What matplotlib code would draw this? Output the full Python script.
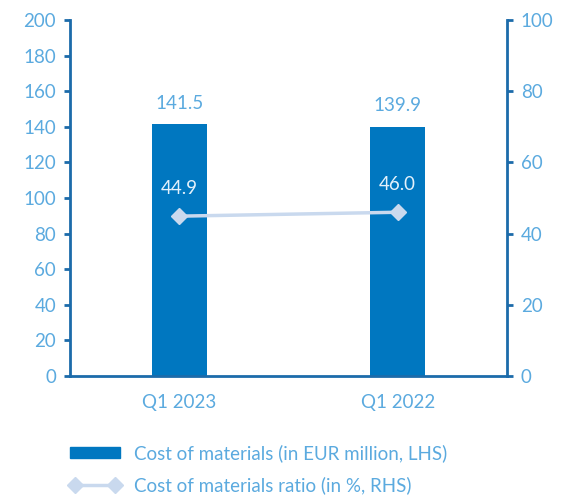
import matplotlib
matplotlib.use("Agg")
import matplotlib.pyplot as plt
from matplotlib.lines import Line2D
from matplotlib.patches import Patch

categories = ["Q1 2023", "Q1 2022"]
cost_materials = [141.5, 139.9]
cost_ratio = [44.9, 46.0]
left_ticks = [0, 20, 40, 60, 80, 100, 120, 140, 160, 180, 200]
right_ticks = [0, 20, 40, 60, 80, 100]

BAR = "#0077C0"
SPINE = "#1C6BAA"
TEXT = "#5BAADF"
LINE = "#C9D9EE"
FS = 13.5

plt.rcParams['font.family'] = ['Lato', 'DejaVu Sans']

fig = plt.figure(figsize=(5.63, 4.97), dpi=100)
ax = fig.add_axes([70/563, 1-376/497, 437/563, 356/497])
ax2 = ax.twinx()

x = list(range(len(categories)))
ax.bar(x, cost_materials, width=0.25, color=BAR, zorder=2)
ax.set_xlim(-0.5, 1.5)
ax.set_ylim(0, 200)
ax.set_yticks(left_ticks)
ax.set_xticks(x)
ax.set_xticklabels(categories)

for xi, v in zip(x, cost_materials):
    ax.annotate(f"{v:.1f}", (xi, v), xytext=(0, 9), textcoords="offset points",
                ha="center", va="bottom", color=TEXT, fontsize=FS)

ax2.plot(x, cost_ratio, color=LINE, lw=2.5, marker="D", ms=8, zorder=3)
ax2.set_ylim(0, 100)
ax2.set_yticks(right_ticks)
for xi, v in zip(x, cost_ratio):
    ax2.annotate(f"{v:.1f}", (xi, v), xytext=(0, 14), textcoords="offset points",
                 ha="center", va="bottom", color="#E3F1FB", fontsize=FS)

for a in (ax, ax2):
    for s in a.spines.values():
        s.set_visible(False)
    a.tick_params(colors=SPINE, labelcolor=TEXT, labelsize=FS, width=2, length=4)
ax.spines['left'].set_visible(True)
ax.spines['left'].set_color(SPINE)
ax.spines['left'].set_linewidth(2)
ax.spines['bottom'].set_visible(True)
ax.spines['bottom'].set_color(SPINE)
ax.spines['bottom'].set_linewidth(2)
ax2.spines['right'].set_visible(True)
ax2.spines['right'].set_color(SPINE)
ax2.spines['right'].set_linewidth(2)
ax.tick_params(axis='x', length=0, pad=13)
ax.tick_params(axis='y', pad=6)
ax2.tick_params(axis='y', pad=6)

handles = [Patch(color=BAR),
           Line2D([0], [0], color=LINE, lw=2.5, marker="D", ms=8)]
labels = ["Cost of materials (in EUR million, LHS)", "Cost of materials ratio (in %, RHS)"]
leg = fig.legend(handles, labels, loc="upper left", bbox_to_anchor=(62/563, 1-437/497),
                 frameon=False, fontsize=FS, numpoints=2, handlelength=2.7,
                 handleheight=0.55, handletextpad=0.75, labelspacing=0.75, labelcolor=TEXT,
                 borderpad=0.4, borderaxespad=0)

fig.savefig("out.png", dpi=100)
